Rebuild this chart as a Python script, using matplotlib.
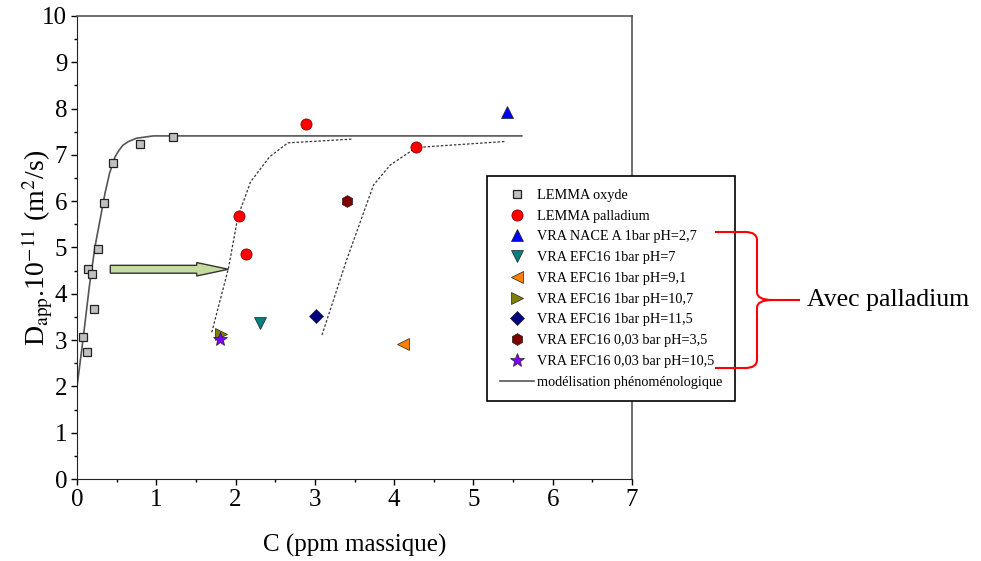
import matplotlib
matplotlib.use('Agg')
import matplotlib.pyplot as plt
from matplotlib.path import Path
from matplotlib.patches import PathPatch, FancyArrow

plt.rcParams['font.family'] = ['Liberation Serif', 'DejaVu Serif']
plt.rcParams['mathtext.fontset'] = 'stix'

# ---- donnees ----
oxyde_c = [1.21, 0.80, 0.45, 0.34, 0.26, 0.14, 0.19, 0.21, 0.07, 0.12]
oxyde_d = [7.39, 7.24, 6.82, 5.97, 4.96, 4.53, 4.43, 3.67, 3.07, 2.74]

pd_c = [2.89, 4.28, 2.04, 2.13]
pd_d = [7.67, 7.16, 5.68, 4.86]

vra_labels = ['VRA NACE A 1bar pH=2,7', 'VRA EFC16 1bar pH=7', 'VRA EFC16 1bar pH=9,1',
              'VRA EFC16 1bar pH=10,7', 'VRA EFC16 1bar pH=11,5', 'VRA EFC16 0,03 bar pH=3,5',
              'VRA EFC16 0,03 bar pH=10,5']
vra_c = [5.42, 2.31, 4.11, 1.82, 3.01, 3.41, 1.80]
vra_d = [7.93, 3.38, 2.91, 3.13, 3.51, 6.00, 3.02]
vra_markers = ['^', 'v', '<', '>', 'D', 'h', '*']
vra_colors = ['#0000ff', '#008080', '#ff8000', '#808000', '#000080', '#800000', '#8000ff']
vra_sizes = [9, 9, 9, 9, 7.5, 8.5, 10]

# modelisation phenomenologique (oxyde)
model_c = [0.0, 0.08, 0.155, 0.227, 0.29, 0.353, 0.41, 0.48, 0.53, 0.58, 0.65, 0.75, 0.96, 1.42, 5.61]
model_d = [1.99, 3.07, 4.15, 5.02, 5.59, 6.17, 6.60, 6.96, 7.10, 7.21, 7.29, 7.36, 7.41, 7.41, 7.41]

# courbes decalees (palladium)
shift1_c = [1.70, 1.91, 2.03, 2.19, 2.43, 2.66, 3.46]
shift1_d = [3.17, 4.55, 5.67, 6.42, 6.96, 7.26, 7.34]
shift2_c = [3.09, 3.40, 3.74, 3.95, 4.28, 5.40]
shift2_d = [3.11, 4.73, 6.35, 6.78, 7.16, 7.29]

# fleche (decalage)
arrow_c = [0.42, 1.91]
arrow_d = 4.53

W, H = 981, 561
fig = plt.figure(figsize=(W/100, H/100), dpi=100)
ax = fig.add_axes([77/W, 1-479/H, (632-77)/W, (479-16)/H])

ax.plot(model_c, model_d, '-', color='#555555', lw=1.2, zorder=2,
        label='modélisation phénoménologique')
ax.plot(shift1_c, shift1_d, color='#333333', lw=0.9, ls=(0, (2, 1.5)), zorder=2)
ax.plot(shift2_c, shift2_d, color='#333333', lw=0.9, ls=(0, (2, 1.5)), zorder=2)

h_ox, = ax.plot(oxyde_c, oxyde_d, 's', ms=6.2, mfc='#c0c0c0', mec='#222222', mew=0.9,
                ls='none', zorder=3, label='LEMMA oxyde')
h_pd, = ax.plot(pd_c, pd_d, 'o', ms=8, mfc='#ff0000', mec='#8b0000', mew=0.6,
                ls='none', zorder=3, label='LEMMA palladium')
handles = [h_ox, h_pd]
for c, d, m, col, s, lab in zip(vra_c, vra_d, vra_markers, vra_colors, vra_sizes, vra_labels):
    h, = ax.plot([c], [d], m, ms=s, mfc=col, mec='#222222', mew=0.5, ls='none',
                 zorder=3, label=lab)
    handles.append(h)
handles.append(ax.lines[0])

ax.add_patch(FancyArrow(arrow_c[0], arrow_d, arrow_c[1]-arrow_c[0], 0,
                        width=0.17, head_width=0.29, head_length=0.40,
                        length_includes_head=True, fc='#c4dc9e', ec='#333333',
                        lw=1.0, zorder=4))

ax.set_xlim(0, 7)
ax.set_ylim(0, 10)
ax.set_xticks(range(0, 8))
ax.set_yticks(range(0, 11))
ax.set_xticks([i + 0.5 for i in range(7)], minor=True)
ax.set_yticks([i + 0.5 for i in range(10)], minor=True)
ax.tick_params(which='major', direction='out', length=4.5, width=1, labelsize=18, pad=2.5,
               top=False, right=False)
ax.tick_params(which='minor', direction='out', length=2.5, width=1, top=False, right=False)
for side in ['left', 'bottom']:
    ax.spines[side].set_color('#222222')
for side in ['top', 'right']:
    ax.spines[side].set_color('#555555')
    ax.spines[side].set_linewidth(1.2)

ax.set_xlabel('C (ppm massique)', fontsize=18, labelpad=16.5)
ax.set_ylabel(r'D$_{\mathrm{app}}$.10$^{\mathrm{-11}}$ (m$^{2}$/s)', fontsize=20)
ax.yaxis.set_label_coords(-0.04, 0.5)

leg = ax.legend(handles=handles, loc='upper left',
                bbox_to_anchor=(486.7/W, 1-176/H), bbox_transform=fig.transFigure,
                borderaxespad=0, fontsize=10.3, frameon=True, fancybox=False,
                edgecolor='black', framealpha=1, labelspacing=0.54,
                handlelength=2.4, handletextpad=0.2, borderpad=0.9)
leg.get_frame().set_linewidth(1.2)

# accolade rouge "Avec palladium" (coordonnees pixels, origine en haut)
def fp(x, y):
    return (x/W, 1-y/H)

brace = [
    ((715, 232), Path.MOVETO), ((745, 232), Path.LINETO),
    ((757, 232), Path.CURVE3), ((757, 240), Path.CURVE3),
    ((757, 292), Path.LINETO),
    ((757, 300), Path.CURVE3), ((772, 300), Path.CURVE3),
    ((800, 300), Path.LINETO),
    ((772, 300), Path.MOVETO),
    ((757, 300), Path.CURVE3), ((757, 308), Path.CURVE3),
    ((757, 360), Path.LINETO),
    ((757, 368), Path.CURVE3), ((745, 368), Path.CURVE3),
    ((715, 368), Path.LINETO),
]
verts = [fp(*p) for p, _ in brace]
codes = [c for _, c in brace]
fig.patches.append(PathPatch(Path(verts, codes), transform=fig.transFigure,
                             fill=False, ec='#ff0000', lw=1.5, zorder=10))
fig.text(807/W, 1-300/H, 'Avec palladium', fontsize=18.5, va='center', ha='left')

fig.savefig('out.png', dpi=100)
